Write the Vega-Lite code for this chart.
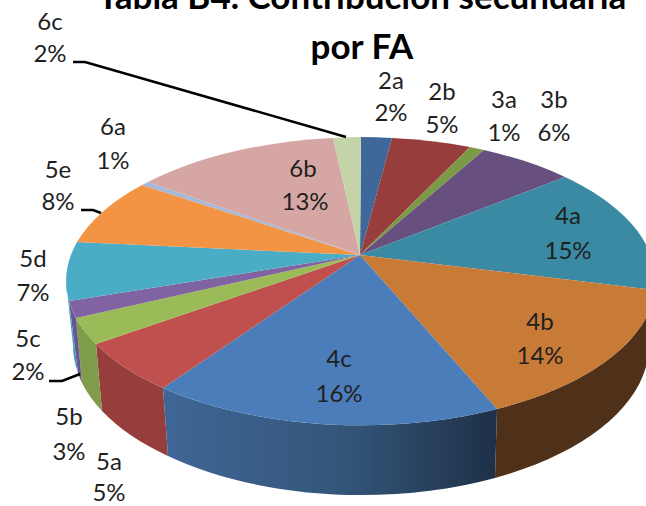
{
"$schema":"https://vega.github.io/schema/vega-lite/v6.json",
"width":646,"height":506,"padding":0,"autosize":{"type":"none"},"background":"white",
"config":{"view":{"stroke":null}},
"title":{"text":["Tabla B4. Contribución secundaria","por FA"],"font":"Lato","fontWeight":"bold","fontSize":35,"lineHeight":50,"color":"#000000","anchor":"middle","frame":"group","baseline":"top","offset":0,"dx":39,"dy":66},
"data":{"values":[
{"order":1,"label":"2a","value":0.02},
{"order":2,"label":"2b","value":0.05},
{"order":3,"label":"3a","value":0.01},
{"order":4,"label":"3b","value":0.06},
{"order":5,"label":"4a","value":0.15},
{"order":6,"label":"4b","value":0.14},
{"order":7,"label":"4c","value":0.16},
{"order":8,"label":"5a","value":0.05},
{"order":9,"label":"5b","value":0.03},
{"order":10,"label":"5c","value":0.02},
{"order":11,"label":"5d","value":0.07},
{"order":12,"label":"5e","value":0.08},
{"order":13,"label":"6a","value":0.01},
{"order":14,"label":"6b","value":0.13},
{"order":15,"label":"6c","value":0.02}
]},
"resolve":{"scale":{"x":"independent","y":"independent","color":"independent","shape":"independent"}},
"layer":[
{"transform":[{"filter":{"field":"label","oneOf":["4b","5a","5b","5c","5d"]}}],
 "mark":{"type":"point","filled":true,"opacity":1,"size":4,"strokeWidth":0},
 "encoding":{
  "x":{"datum":0,"type":"quantitative","scale":{"domain":[0,646],"range":[0,646],"nice":false,"zero":false},"axis":null},
  "y":{"datum":0,"type":"quantitative","scale":{"domain":[0,506],"range":[0,506],"nice":false,"zero":false},"axis":null},
  "shape":{"field":"label","type":"nominal","legend":null,"scale":{"domain":["4b","5a","5b","5c","5d"],"range":[
   "M655,290 A295,144 0 0 1 497,409 L495,478 A288,150 0 0 0 649,345 Z",
   "M163,388 A295,144 0 0 1 96,344 L102,411 A288,150 0 0 0 168,456 Z",
   "M96,344 A295,144 0 0 1 76,318 L82,383 A288,150 0 0 0 102,411 Z",
   "M76,318 A295,144 0 0 1 69,301 L78,373 A288,150 0 0 0 82,383 Z",
   "M69,301 A295,144 0 0 1 66,281 L73,345 A288,150 0 0 0 78,373 Z"]}},
  "color":{"field":"label","type":"nominal","legend":null,"scale":{"domain":["4b","5a","5b","5c","5d"],"range":["#4f3018","#953e3b","#7f9c4a","#6a5590","#3f9db8"]}}
 }},
{"transform":[{"filter":{"field":"label","equal":"4c"}}],
 "mark":{"type":"point","filled":true,"opacity":1,"size":4,"strokeWidth":0,
  "color":{"gradient":"linear","x1":0,"y1":0,"x2":1,"y2":0,"stops":[{"offset":0,"color":"#3f6697"},{"offset":0.55,"color":"#335578"},{"offset":1,"color":"#1e3048"}]}},
 "encoding":{
  "x":{"datum":0,"type":"quantitative","scale":{"domain":[0,646],"range":[0,646],"nice":false,"zero":false},"axis":null},
  "y":{"datum":0,"type":"quantitative","scale":{"domain":[0,506],"range":[0,506],"nice":false,"zero":false},"axis":null},
  "shape":{"field":"label","type":"nominal","legend":null,"scale":{"domain":["4c"],"range":["M497,409 A295,144 0 0 1 163,388 L168,456 A288,150 0 0 0 495,478 Z"]}}
 }},
{"mark":{"type":"point","filled":true,"opacity":1,"size":4,"strokeWidth":0},
 "encoding":{
  "x":{"datum":0,"type":"quantitative","scale":{"domain":[0,646],"range":[0,646],"nice":false,"zero":false},"axis":null},
  "y":{"datum":0,"type":"quantitative","scale":{"domain":[0,506],"range":[0,506],"nice":false,"zero":false},"axis":null},
  "shape":{"field":"label","type":"nominal","legend":null,"scale":{"domain":["2a","2b","3a","3b","4a","4b","4c","5a","5b","5c","5d","5e","6a","6b","6c"],"range":[
   "M360,255 L361,137 A295,144 0 0 1 392,138 Z",
   "M360,255 L392,138 A295,144 0 0 1 470,147 Z",
   "M360,255 L470,147 A295,144 0 0 1 484,150 Z",
   "M360,255 L484,150 A295,144 0 0 1 565,177 Z",
   "M360,255 L565,177 A295,144 0 0 1 655,290 Z",
   "M360,255 L655,290 A295,144 0 0 1 497,409 Z",
   "M360,255 L497,409 A295,144 0 0 1 163,388 Z",
   "M360,255 L163,388 A295,144 0 0 1 96,344 Z",
   "M360,255 L96,344 A295,144 0 0 1 76,318 Z",
   "M360,255 L76,318 A295,144 0 0 1 69,301 Z",
   "M360,255 L69,301 A295,144 0 0 1 77,242 Z",
   "M360,255 L77,242 A295,144 0 0 1 142,185 Z",
   "M360,255 L142,185 A295,144 0 0 1 148,182 Z",
   "M360,255 L148,182 A295,144 0 0 1 333,138 Z",
   "M360,255 L333,138 A295,144 0 0 1 361,137 Z"]}},
  "color":{"field":"label","type":"nominal","legend":null,"scale":{"domain":["2a","2b","3a","3b","4a","4b","4c","5a","5b","5c","5d","5e","6a","6b","6c"],"range":["#3e689a","#973e3c","#7c9a46","#674f80","#3b8aa3","#c87a37","#4c7dbb","#bf504d","#9bbb59","#8064a2","#4bacc6","#f29443","#a6b8d9","#d6a6a5","#c3d4a8"]}}
 }},
{"transform":[{"filter":{"field":"label","oneOf":["5c","5e","6c"]}}],
 "mark":{"type":"point","filled":false,"opacity":1,"size":4,"strokeWidth":2.5,"color":"#000000"},
 "encoding":{
  "x":{"datum":0,"type":"quantitative","scale":{"domain":[0,646],"range":[0,646],"nice":false,"zero":false},"axis":null},
  "y":{"datum":0,"type":"quantitative","scale":{"domain":[0,506],"range":[0,506],"nice":false,"zero":false},"axis":null},
  "shape":{"field":"label","type":"nominal","legend":null,"scale":{"domain":["5c","5e","6c"],"range":[
   "M49,381 L62,381 L80,374",
   "M81,210 L93,210 L101,213",
   "M73,62 L85,62 L346,137"]}}
 }},
{"mark":{"type":"text","font":"Lato","fontSize":24,"color":"#1f1f1f","align":"center","baseline":"middle"},
 "encoding":{
  "text":{"field":"label","type":"nominal"},
  "x":{"field":"order","type":"quantitative","axis":null,"scale":{"domain":[1,2,3,4,5,6,7,8,9,10,11,12,13,14,15],"range":[391,442,504,554,568,540,339,109,69,28,33,58,113,303,50],"nice":false,"zero":false}},
  "y":{"field":"order","type":"quantitative","axis":null,"scale":{"domain":[1,2,3,4,5,6,7,8,9,10,11,12,13,14,15],"range":[82,93,101,101,217,323,360,463,418,340,260,171,128,170,23],"nice":false,"zero":false}}
 }},
{"mark":{"type":"text","font":"Lato","fontSize":24,"color":"#1f1f1f","align":"center","baseline":"middle"},
 "encoding":{
  "text":{"field":"value","type":"quantitative","format":".0%"},
  "x":{"field":"order","type":"quantitative","axis":null,"scale":{"domain":[1,2,3,4,5,6,7,8,9,10,11,12,13,14,15],"range":[391,442,504,554,568,540,339,109,69,28,33,58,113,305,50],"nice":false,"zero":false}},
  "y":{"field":"order","type":"quantitative","axis":null,"scale":{"domain":[1,2,3,4,5,6,7,8,9,10,11,12,13,14,15],"range":[114,126,134,134,252,357,395,494,453,373,294,203,162,203,55],"nice":false,"zero":false}}
 }}
]
}
